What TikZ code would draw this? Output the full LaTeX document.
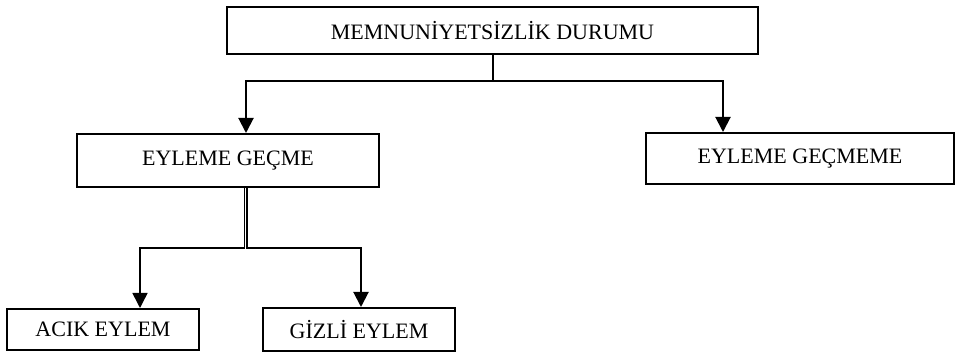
\documentclass[tikz,border=0pt]{standalone}
\usepackage{fontspec}
\setmainfont{Liberation Serif}
\usetikzlibrary{arrows.meta,positioning}

\begin{document}
\begin{tikzpicture}[
  x=1pt, y=-1pt,
  >={Triangle[width=15pt,length=15pt]},
  line width=2pt,
  box/.style={draw, line width=2pt, inner sep=0pt,
    font=\fontsize{22}{26}\selectfont},
  arr/.style={->, line width=2pt}
]
  \useasboundingbox (0,0) rectangle (956,352);

  % Top box
  \node (durum) [box, minimum width=531pt, minimum height=47pt] at (492.5,30.5)
    {MEMNUNİYETSİZLİK DURUMU};

  % Second level
  \node (gecme) [box, minimum width=302pt, minimum height=53pt] at (228,160.5)
    {EYLEME GEÇME};
  \node (gecmeme) [box, minimum width=308pt, minimum height=51pt] at (800,158.5)
    {EYLEME GEÇMEME};

  % Third level
  \node (acik) [box, minimum width=192pt, minimum height=41pt] at (103,329.5)
    {ACIK EYLEM};
  \node (gizli) [box, minimum width=192pt, minimum height=43pt] at (359,329.5)
    {GİZLİ EYLEM};

  % Fork under the top box
  \coordinate (fork) at ([yshift=-26pt]durum.south);
  \draw (durum.south) -- (fork);
  \draw[arr] (fork) -| ([xshift=18pt]gecme.north);
  \draw[arr] (fork) -| ([xshift=-77pt]gecmeme.north);

  % Double line under EYLEME GEÇME
  \draw[->, line width=1.5pt] ([xshift=16.3pt]gecme.south) -- ++(0,60)
    -| ([xshift=37pt]acik.north);
  \draw[arr] ([xshift=18.7pt]gecme.south) -- ++(0,60)
    -| ([xshift=2pt]gizli.north);
\end{tikzpicture}
\end{document}
